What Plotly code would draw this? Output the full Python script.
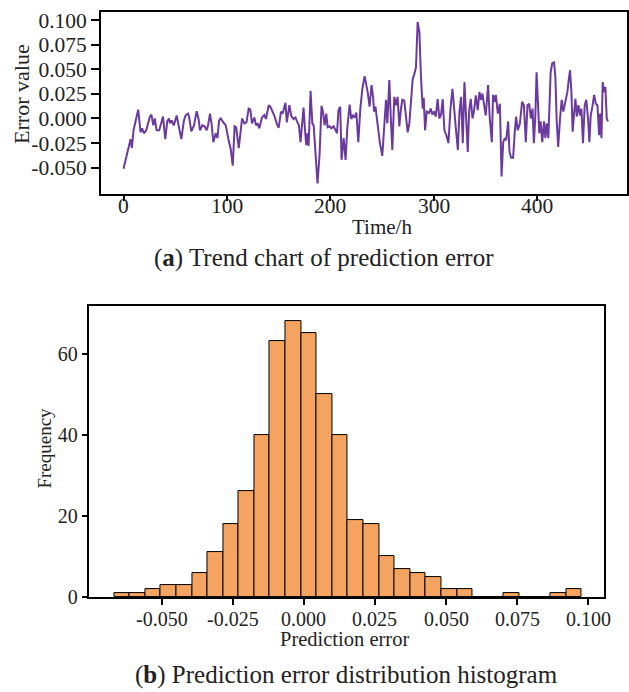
import plotly.graph_objects as go

# ---------------- data: (a) prediction error time series ----------------
hours = [
    0, 2.6, 4.3, 6.8, 8.1, 9.7, 11.6, 14.2, 16.5, 18, 19.7, 22, 25.6, 27, 28.8, 30.3,
    32, 34.5, 37.2, 38.2, 40.4, 42.3, 44, 45, 46.5, 48.7, 51.4, 54, 55.9, 58.5, 60,
    62.4, 63.6, 65.6, 68.2, 70.8, 72.7, 74, 76.3, 78.5, 80.5, 81.8, 83.7, 85.4, 86.9,
    89.3, 90.9, 92.5, 94, 96.6, 98.9, 102.1, 103.7, 105.7, 107.5, 109, 111.5, 114.7,
    117, 119, 121.1, 122.7, 124.3, 126.6, 128.2, 129.8, 131.4, 134, 136.2, 137.8,
    140.5, 142, 144.3, 145.9, 148.2, 150.1, 152.4, 154, 156.7, 158, 160.5, 162.2,
    164.5, 166.4, 167.7, 169.7, 171.3, 172.9, 174.2, 175.5, 176.8, 177.8, 179.1, 181,
    182.7, 184, 186, 187.7, 189.7, 191.6, 193, 194.6, 196.2, 197.5, 199.5, 201, 203.3,
    204.9, 206.6, 208, 209.7, 211, 213, 214.9, 216.5, 218.8, 220.4, 222, 223.6, 225.3,
    227.2, 229.2, 231.1, 233.3, 236.2, 238.1, 240, 241.5, 242.5, 243.8, 245.9, 248.1,
    250.4, 252.3, 254, 255.3, 257.2, 258.8, 260.1, 262, 263.6, 265.2, 266.9, 268.5,
    269.8, 271.7, 273.4, 275, 276.6, 278.2, 279.8, 281.4, 283, 284.6, 286.3, 287.9,
    289.5, 290.5, 291.8, 293.4, 295.6, 297.3, 298.9, 300.5, 302.1, 304, 305.6, 307.3,
    308.9, 310.5, 312.4, 314.4, 316.4, 318.3, 319.9, 321.6, 323.5, 325.1, 326.6, 328.3,
    329.9, 331.5, 333.1, 334.4, 336, 337.7, 339.3, 340.9, 342.8, 344.4, 346, 347.3,
    349, 350.5, 352.8, 354.4, 356.4, 357.6, 359.3, 360.3, 362.2, 364.2, 365.8, 367.4,
    369, 370.3, 372.2, 373.5, 375.1, 377, 378.6, 379.9, 381.5, 383.5, 385.7, 387.4,
    389.3, 390.9, 392.5, 394.2, 395.8, 397.1, 398.4, 399.7, 401, 402.3, 403.6, 405.2,
    406.9, 408.2, 409.5, 411.1, 413.3, 414.8, 416.6, 417.9, 419.2, 420.6, 422.4, 424,
    425.6, 427.6, 429.5, 430.9, 432.1, 433.4, 434.6, 436, 437.3, 438.6, 440.2, 441.8,
    443.1, 444.6, 446.3, 447.8, 449.5, 450.8, 452.1, 453.7, 455.4, 457, 458.6, 460.2,
    461.2, 462.5, 463.7, 465, 466.3, 467.6, 468.8,
]
error_values = [
    -0.051, -0.039, -0.032, -0.021, -0.030, -0.012, -0.003, 0.009, -0.014, -0.010, -0.015,
    -0.012, 0.002, 0.004, -0.007, 0.000, -0.012, -0.012, -0.002, 0.002, -0.021, -0.003,
    0.000, -0.005, -0.002, -0.007, 0.003, -0.012, -0.021, -0.002, 0.003, 0.005, 0.001,
    -0.013, -0.007, 0.0075, -0.001, -0.012, -0.007, -0.008, -0.012, -0.007, 0.005, -0.007,
    -0.024, -0.015, -0.020, -0.002, 0.000, -0.004, -0.007, -0.024, -0.031, -0.048, -0.008,
    -0.009, -0.030, 0.000, -0.005, -0.004, 0.010, 0.009, -0.005, 0.001, -0.007, -0.005,
    -0.010, 0.001, 0.0035, -0.0005, 0.0135, 0.012, 0.007, 0.003, -0.005, -0.0095, 0.007,
    0.005, 0.016, -0.004, 0.0135, 0.003, -0.0005, 0.001, -0.0025, -0.007, -0.024, -0.0005,
    0.011, -0.010, -0.027, -0.015, -0.028, 0.028, -0.005, -0.007, -0.034, -0.066, -0.037,
    0.013, 0.007, -0.007, 0.005, -0.009, -0.008, -0.010, -0.008, -0.012, -0.015, 0.0085,
    0.012, -0.042, -0.020, -0.042, -0.010, 0.014, -0.0005, 0.003, 0.001, 0.006, -0.024,
    0.0105, 0.030, 0.043, 0.027, 0.012, 0.034, 0.022, 0.007, 0.012, -0.008, -0.025, -0.038,
    -0.004, 0.019, -0.005, 0.039, -0.003, -0.032, 0.022, 0.0135, 0.022, -0.008, 0.010,
    0.019, 0.018, -0.003, -0.014, -0.005, 0.022, 0.040, 0.045, 0.052, 0.098, 0.088, 0.041,
    0.010, 0.021, -0.012, 0.007, 0.0055, 0.010, 0.004, 0.007, 0.002, 0.0196, 0.000, 0.004,
    0.0196, -0.012, -0.017, -0.025, 0.010, 0.030, 0.007, -0.010, -0.032, 0.007, 0.022,
    -0.025, 0.037, -0.0067, -0.034, 0.007, 0.020, 0.000, 0.0085, 0.0236, 0.0085, 0.027,
    0.019, 0.0253, 0.010, 0.003, 0.034, 0.000, -0.024, 0.024, 0.017, 0.024, 0.005, 0.015,
    -0.059, -0.024, -0.020, -0.022, -0.003, -0.034, -0.040, -0.040, -0.0135, 0.002,
    -0.012, -0.0054, 0.017, 0.0135, -0.024, 0.0135, 0.015, 0.000, 0.010, -0.025, 0.000,
    0.047, 0.017, -0.015, -0.003, -0.024, -0.003, -0.020, -0.005, -0.020, 0.047, 0.056,
    0.057, 0.042, -0.003, -0.029, 0.000, 0.019, 0.007, 0.017, 0.027, 0.040, 0.049, 0.027,
    -0.0135, 0.005, 0.020, 0.002, 0.0135, 0.003, 0.010, -0.025, 0.0135, 0.019, 0.000,
    -0.024, 0.003, 0.012, 0.024, 0.015, 0.0135, -0.017, 0.005, -0.020, 0.037, 0.027,
    0.032, 0.000, -0.003,
]

# ---------------- data: (b) histogram of prediction error ----------------
bin_start = -0.0667
bin_width = 0.005478
frequency = [1, 1, 2, 3, 3, 6, 11, 18, 26, 40, 63, 68, 65, 50, 40, 19, 18, 10, 7, 6,
             5, 2, 2, 0, 0, 1, 0, 0, 1, 2]
bin_centers = [bin_start + bin_width * (i + 0.5) for i in range(len(frequency))]

err_ticks = [-0.05, -0.025, 0.0, 0.025, 0.05, 0.075, 0.1]
err_ticktext = ["-0.050", "-0.025", "0.000", "0.025", "0.050", "0.075", "0.100"]
time_ticks = [0, 100, 200, 300, 400]
freq_ticks = [0, 20, 40, 60]

W, H = 629, 692
FONT = "Liberation Serif"


def px(x):
    return min(1.0, max(0.0, x / W))


def py(y):
    return min(1.0, max(0.0, 1 - y / H))


def cx(t):
    return (t - 1.0) / 0.995


def cy(t):
    return (t - 1.8) / 0.982


def f(size):
    return dict(family=FONT, size=size, color="#222222")


fig = go.Figure()
fig.add_trace(go.Scatter(
    x=hours, y=error_values, mode="lines",
    line=dict(color="#6B3A9E", width=2),
    xaxis="x", yaxis="y", hoverinfo="skip",
))
fig.add_trace(go.Bar(
    x=bin_centers, y=frequency, width=bin_width,
    marker=dict(color="#F4A460", line=dict(color="black", width=1)),
    xaxis="x2", yaxis="y2",
))

axis_common = dict(showgrid=False, zeroline=False, linecolor="black", linewidth=1.5,
                   ticks="outside", tickcolor="black", tickwidth=1.5, mirror=True)

fig.update_layout(
    width=W, height=H, margin=dict(l=0, r=0, t=0, b=0),
    paper_bgcolor="white", plot_bgcolor="white", showlegend=False,
    font=f(16),
    bargap=0,
    xaxis=dict(domain=[px(cx(101.7)), 1.0], anchor="y", range=[-21.9, 487.2],
               tickvals=time_ticks, ticklen=5, showticklabels=False, **axis_common),
    yaxis=dict(domain=[py(cy(192.7)), py(cy(10.3))], anchor="x", range=[-0.0769, 0.1077],
               tickvals=err_ticks, ticktext=err_ticktext,
               ticklen=8, tickfont=f(21.5), **axis_common),
    xaxis2=dict(domain=[px(cx(90.3)), px(cx(604.3))], anchor="y2",
                range=[-0.07535, 0.10563], tickvals=err_ticks, ticklen=6,
                showticklabels=False, **axis_common),
    yaxis2=dict(domain=[py(cy(597)), py(cy(305))], anchor="x2", range=[0, 71.7],
                tickvals=freq_ticks, ticklen=6, tickfont=f(20), **axis_common),
)

annotations = [
    dict(text="Error value", x=px(cx(23)), y=py(cy(92)), textangle=-90, font=f(22)),
    dict(text="Time/h", x=px(cx(382)), y=py(cy(226)), font=f(21)),
    dict(text="(<b>a</b>) Trend chart of prediction error", x=px(cx(324)),
         y=py(cy(257)), font=f(25)),
    dict(text="Frequency", x=px(cx(45)), y=py(cy(448)), textangle=-90, font=f(19)),
    dict(text="Prediction error", x=px(cx(345)), y=py(cy(639)), font=f(20.5)),
    dict(text="(<b>b</b>) Prediction error distribution histogram", x=px(cx(346.5)),
         y=py(cy(675)), font=f(25)),
]
for a in annotations:
    a.update(xref="paper", yref="paper")
# x tick labels placed through the axes' own scales
for v in time_ticks:
    annotations.append(dict(text=str(v), x=v, xref="x", y=py(cy(205)), yref="paper",
                            font=f(21.5)))
for v, t in zip(err_ticks, err_ticktext):
    annotations.append(dict(text=t, x=v, xref="x2", y=py(cy(619.5)), yref="paper",
                            font=f(20)))
for a in annotations:
    a.update(showarrow=False, xanchor="center", yanchor="middle")
fig.update_layout(annotations=annotations)

fig.write_html("out.html")
